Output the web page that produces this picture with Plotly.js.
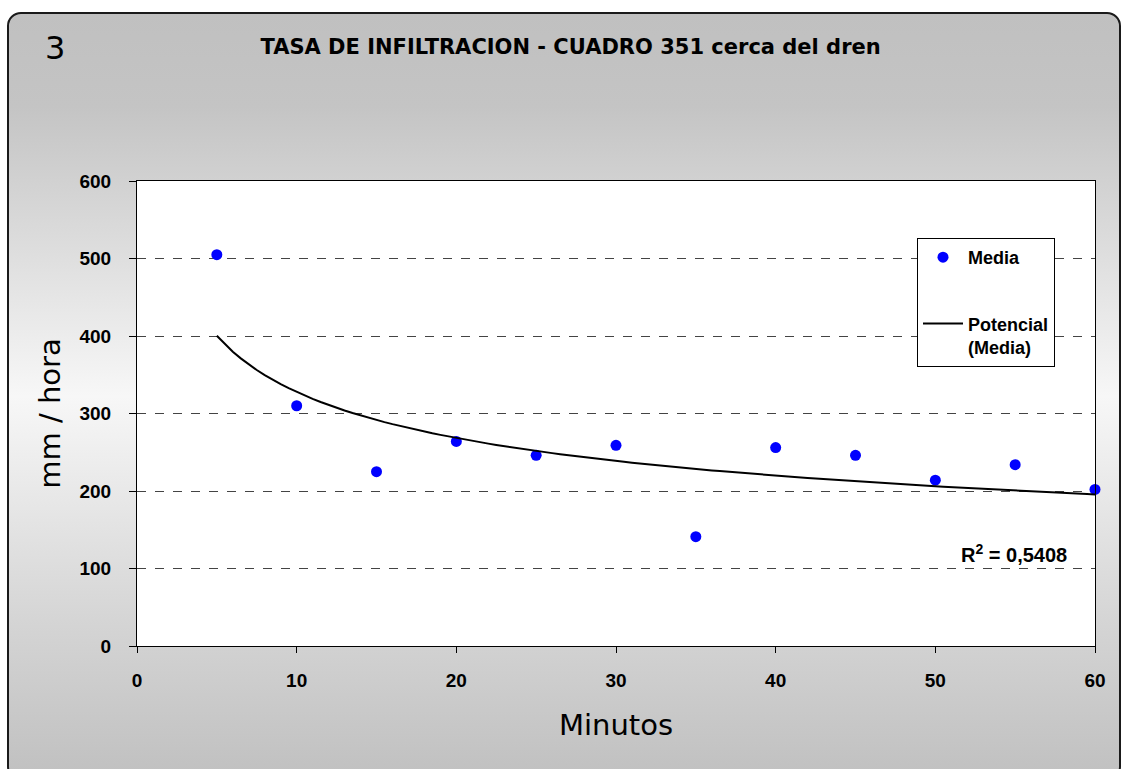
<!DOCTYPE html>
<html>
<head>
<meta charset="utf-8">
<script src="https://cdn.plot.ly/plotly-3.0.1.min.js"></script>
<style>
  html, body { margin: 0; padding: 0; background: #ffffff; }
  #frame {
    position: absolute; left: 7px; top: 12px; width: 1110px; height: 765px;
    border: 2px solid #1a1a1a; border-radius: 14px;
    background: linear-gradient(to bottom, #c0c0c0 0%, #c4c4c4 12%, #f7f7f7 50%, #d4d4d4 80%, #c0c0c0 100%);
  }
  #chart { position: absolute; left: 0; top: 0; width: 1121px; height: 769px; }
</style>
</head>
<body>
<div id="frame"></div>
<div id="chart"></div>
<script>
// ---- data ----
const minutos = [5, 10, 15, 20, 25, 30, 35, 40, 45, 50, 55, 60];
const media   = [505, 310, 225, 264, 246, 259, 141, 256, 246, 214, 234, 202];
const xTicks  = [0, 10, 20, 30, 40, 50, 60];
const yTicks  = [0, 100, 200, 300, 400, 500, 600];
const r2Label = 'R<sup>2</sup> = 0,5408';

// ---- power trendline (least squares in log space, as Excel does) ----
const lx = minutos.map(Math.log), ly = media.map(Math.log);
const mx = lx.reduce((a, b) => a + b, 0) / lx.length;
const my = ly.reduce((a, b) => a + b, 0) / ly.length;
let sxy = 0, sxx = 0;
for (let i = 0; i < lx.length; i++) { sxy += (lx[i] - mx) * (ly[i] - my); sxx += (lx[i] - mx) ** 2; }
const bExp = sxy / sxx, aCoef = Math.exp(my - bExp * mx);
const fitX = [], fitY = [];
for (let x = minutos[0]; x <= minutos[minutos.length - 1] + 1e-9; x += 0.5) { fitX.push(x); fitY.push(aCoef * Math.pow(x, bExp)); }

const tickFont = { family: 'Liberation Sans, Arial, sans-serif', size: 19, color: '#000', weight: 'bold' };

const traces = [
  { x: minutos, y: media, type: 'scatter', mode: 'markers', name: 'Media',
    marker: { color: '#0000ff', size: 11 }, cliponaxis: false, legendgroup: 'a' },
  { x: fitX, y: fitY, type: 'scatter', mode: 'lines', name: 'Potencial<br>(Media)',
    line: { color: '#000', width: 2 }, legendgroup: 'b' }
];

const layout = {
  width: 1121, height: 769, autosize: false,
  margin: { l: 137, r: 26, t: 181, b: 123, pad: 0 },
  paper_bgcolor: 'rgba(0,0,0,0)', plot_bgcolor: '#ffffff',
  title: { text: 'TASA DE INFILTRACION - CUADRO 351 cerca del dren',
    font: { family: 'DejaVu Sans, sans-serif', size: 21, color: '#000', weight: 'bold' },
    xref: 'container', yref: 'container', x: 0.509, xanchor: 'center', y: 1 - 47 / 769, yanchor: 'middle' },
  xaxis: {
    range: [0, 60], tickvals: xTicks, ticktext: xTicks.map(String),
    ticks: 'outside', ticklen: 6, tickcolor: '#000', tickwidth: 1,
    showline: true, linecolor: '#000', linewidth: 1, mirror: true,
    showgrid: false, zeroline: false, tickfont: tickFont, ticklabelstandoff: 11,
    title: { text: 'Minutos', font: { family: 'DejaVu Sans, sans-serif', size: 29, color: '#000' }, standoff: 24 }
  },
  yaxis: {
    range: [0, 600], tickvals: yTicks, ticktext: yTicks.map(String),
    ticks: 'outside', ticklen: 7, tickcolor: '#000', tickwidth: 1,
    showline: true, linecolor: '#000', linewidth: 1, mirror: true,
    showgrid: true, gridcolor: '#444', griddash: 'dash', gridwidth: 1,
    zeroline: false, tickfont: tickFont, ticklabelstandoff: 14,
    title: { text: 'mm / hora', font: { family: 'DejaVu Sans, sans-serif', size: 29, color: '#000' }, standoff: 10 }
  },
  showlegend: true,
  legend: {
    x: (917 - 137) / 958, y: (646 - 238) / 465, xanchor: 'left', yanchor: 'top',
    bgcolor: '#ffffff', bordercolor: '#000', borderwidth: 1,
    font: { family: 'Liberation Sans, Arial, sans-serif', size: 18, color: '#000', weight: 'bold' },
    traceorder: 'grouped', tracegroupgap: 40, valign: 'top', itemwidth: 40
  },
  annotations: [
    { text: '3', xref: 'paper', yref: 'paper', x: (55 - 137) / 958, y: (646 - 48) / 465,
      xanchor: 'center', yanchor: 'middle', showarrow: false,
      font: { family: 'DejaVu Sans, sans-serif', size: 32, color: '#000' } },
    { text: r2Label, xref: 'paper', yref: 'paper', x: (1069 - 137) / 958, y: (646 - 553) / 465,
      xanchor: 'right', yanchor: 'middle', showarrow: false,
      font: { family: 'Liberation Sans, Arial, sans-serif', size: 20, color: '#000', weight: 'bold' } }
  ]
};

Plotly.newPlot('chart', traces, layout, { displayModeBar: false, staticPlot: true });
</script>
</body>
</html>
